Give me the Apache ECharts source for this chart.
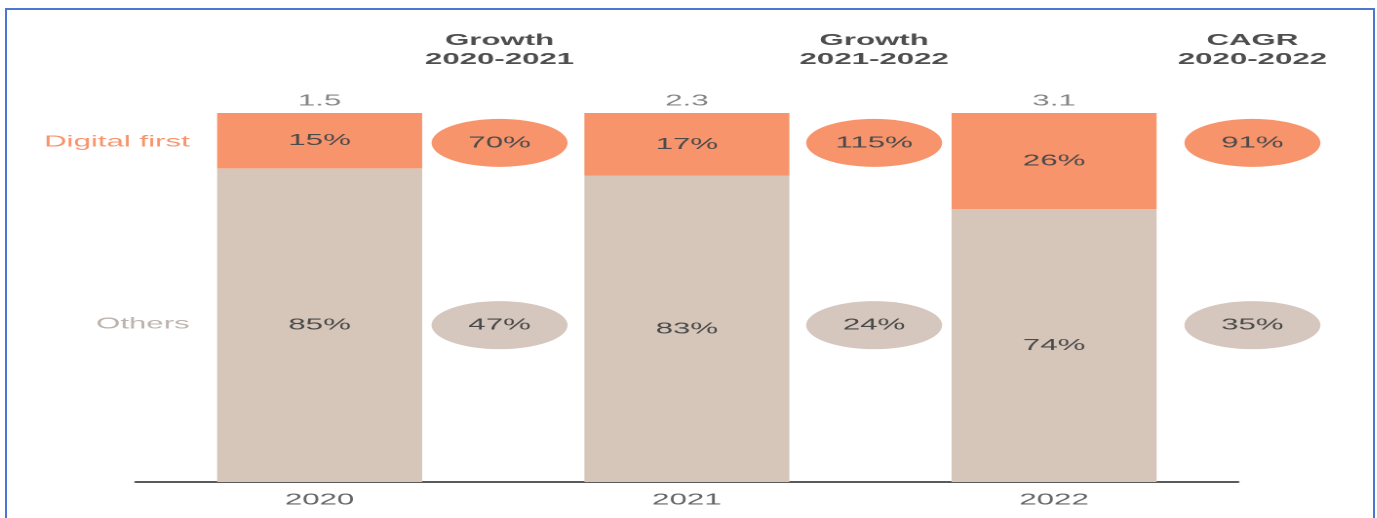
<!DOCTYPE html>
<html>
<head>
<meta charset="utf-8">
<script src="https://cdn.jsdelivr.net/npm/echarts@6/dist/echarts.min.js"></script>
<style>
  html, body { margin: 0; padding: 0; background: #fff; overflow: hidden; }
  #frame { position: relative; width: 1377px; height: 518px; overflow: hidden; }
  #border {
    position: absolute; left: 5px; top: 8px; width: 1366px; height: 530px;
    border: 2px solid #4A78D0; box-sizing: content-box; pointer-events: none;
  }
  /* the chart is laid out narrow and widened, giving the broad lettering */
  #chart { position: absolute; left: 0; top: 0; height: 518px; transform-origin: 0 0; }
</style>
</head>
<body>
<div id="frame">
  <div id="chart"></div>
  <div id="border"></div>
</div>
<script>
// Market split by segment, share of total (%)
const years = ['2020', '2021', '2022'];
const totals = ['1.5', '2.3', '3.1'];
const digitalShare = [15, 17, 26];
const othersShare = [85, 83, 74];

// Growth figures shown between the bars (%)
const growthHeaders = ['Growth\n2020-2021', 'Growth\n2021-2022', 'CAGR\n2020-2022'];
const digitalGrowth = [70, 115, 91];
const othersGrowth = [47, 24, 35];

// Layout
const S = 1.95;                         // horizontal stretch of the whole drawing
const W = 1377;
const ORANGE = '#F8946C';
const BEIGE = '#D6C6BA';
const BEIGE_OVAL = '#D6C7BE';
const TEXT = '#4a4a4a';
const FONT = '"Liberation Sans", Arial, sans-serif';
const slotX = [0.99, 2.01, 3.04];       // growth column positions on the hidden value axis
const rowDigital = 91.9;                // y of the digital-first row (axis units)
const rowOthers = 42.5;                 // y of the others row

const el = document.getElementById('chart');
el.style.width = (W / S) + 'px';
el.style.transform = 'scaleX(' + S + ')';

const chart = echarts.init(el, null, { renderer: 'canvas', devicePixelRatio: 2 });

const ovalSeries = (name, values, rowY, color) => ({
  name,
  type: 'scatter',
  xAxisIndex: 1,
  yAxisIndex: 0,
  clip: false,
  symbol: 'circle',
  symbolSize: [136 / S, 48],
  itemStyle: { color, opacity: 1 },
  label: {
    show: true,
    position: 'inside',
    formatter: p => p.value[2] + '%',
    color: TEXT,
    fontFamily: FONT,
    fontSize: 16
  },
  data: values.map((v, i) => [slotX[i], rowY, v]),
  z: 3
});

const option = {
  animation: false,
  backgroundColor: '#ffffff',
  grid: { left: 136 / S, right: 139 / S, top: 113, bottom: 36 },
  xAxis: [
    {
      type: 'category',
      data: years,
      axisLine: { lineStyle: { color: '#5a5a5a', width: 2 } },
      axisTick: { show: false },
      axisLabel: { color: '#666', fontFamily: FONT, fontSize: 16, margin: 10 }
    },
    { type: 'value', min: 0, max: 3, show: false }
  ],
  yAxis: { type: 'value', min: 0, max: 100, show: false },
  graphic: [
    {
      type: 'text',
      right: (W - 190) / S,
      top: 134,
      style: { text: 'Digital first', fill: ORANGE, font: '16px ' + FONT, textAlign: 'right' }
    },
    {
      type: 'text',
      right: (W - 190) / S,
      top: 316,
      style: { text: 'Others', fill: '#bdb3ad', font: '16px ' + FONT, textAlign: 'right' }
    }
  ],
  series: [
    {
      name: 'Others',
      type: 'bar',
      stack: 'share',
      barWidth: 205 / S,
      itemStyle: { color: BEIGE },
      label: {
        show: true, position: 'inside',
        formatter: p => p.value + '%',
        color: TEXT, fontFamily: FONT, fontSize: 16
      },
      data: othersShare
    },
    {
      name: 'Digital first',
      type: 'bar',
      stack: 'share',
      barWidth: 205 / S,
      itemStyle: { color: ORANGE },
      label: {
        show: true, position: 'inside',
        formatter: p => p.value + '%',
        color: TEXT, fontFamily: FONT, fontSize: 16
      },
      data: digitalShare
    },
    {
      name: 'Total',
      type: 'scatter',
      symbolSize: 0,
      label: {
        show: true, position: 'top', distance: 4,
        formatter: p => totals[p.dataIndex],
        color: '#666', fontFamily: FONT, fontSize: 16
      },
      data: years.map(() => 100)
    },
    {
      name: 'Headers',
      type: 'scatter',
      xAxisIndex: 1,
      clip: false,
      symbolSize: 0,
      label: {
        show: true, position: 'top', distance: 44,
        formatter: p => growthHeaders[p.dataIndex],
        color: '#222', fontFamily: FONT, fontSize: 16, fontWeight: 'bold', lineHeight: 19
      },
      data: slotX.map(x => [x, 100])
    },
    ovalSeries('Digital first growth', digitalGrowth, rowDigital, ORANGE),
    ovalSeries('Others growth', othersGrowth, rowOthers, BEIGE_OVAL)
  ]
};

chart.setOption(option);
</script>
</body>
</html>
